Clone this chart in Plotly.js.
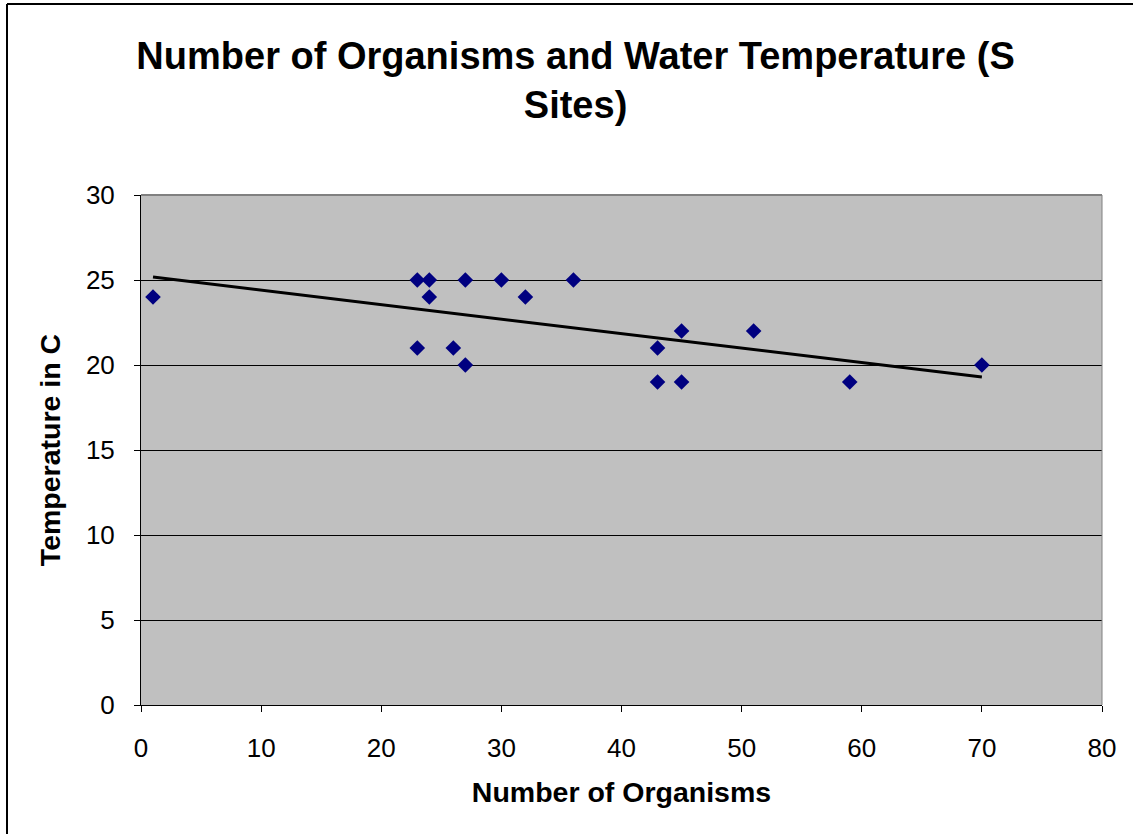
<!DOCTYPE html>
<html>
<head>
<meta charset="utf-8">
<script src="https://cdn.plot.ly/plotly-3.0.1.min.js"></script>
<style>html,body{margin:0;padding:0;background:#fff;}#chart{width:1133px;height:834px;}</style>
</head>
<body>
<div id="chart"></div>
<script>
const organisms = [1, 23, 24, 24, 27, 30, 36, 32, 23, 26, 27, 43, 45, 51, 43, 45, 59, 70];
const temperature = [24, 25, 25, 24, 25, 25, 25, 24, 21, 21, 20, 21, 22, 22, 19, 19, 19, 20];
const xTicks = [0, 10, 20, 30, 40, 50, 60, 70, 80];
const yTicks = [0, 5, 10, 15, 20, 25, 30];

// least-squares trendline
const n = organisms.length;
const mx = organisms.reduce((a, b) => a + b, 0) / n;
const my = temperature.reduce((a, b) => a + b, 0) / n;
let sxy = 0, sxx = 0;
for (let i = 0; i < n; i++) { sxy += (organisms[i] - mx) * (temperature[i] - my); sxx += (organisms[i] - mx) ** 2; }
const slope = sxy / sxx, icpt = my - slope * mx;
const xMin = Math.min(...organisms), xMax = Math.max(...organisms);
const trendX = [xMin, xMax];
const trendY = trendX.map(v => icpt + slope * v);

const font = 'Arial, "Liberation Sans", sans-serif';
const L = 141, R = 31, T = 195, B = 129;
const pw = 1133 - L - R, ph = 834 - T - B;

const data = [
  { x: trendX, y: trendY, type: 'scatter', mode: 'lines', line: { color: '#000', width: 3 }, hoverinfo: 'skip' },
  { x: organisms, y: temperature, type: 'scatter', mode: 'markers',
    marker: { symbol: 'diamond', color: '#000080', size: 12, line: { width: 0 } } }
];

const layout = {
  width: 1133, height: 834,
  margin: { l: L, r: R, t: T, b: B, pad: 0 },
  paper_bgcolor: '#fff', plot_bgcolor: '#c0c0c0',
  showlegend: false,
  title: { text: '<b>Number of Organisms and Water Temperature (S<br>Sites)</b>',
    font: { family: font, size: 38, color: '#000' }, xref: 'container', x: 0.508, xanchor: 'center',
    yref: 'container', y: 1 - 69 / 834, yanchor: 'top' },
  xaxis: { range: [0, 80], tickvals: xTicks, ticktext: xTicks.map(String), showgrid: false, zeroline: false,
    showline: true, linecolor: '#000', linewidth: 1, ticks: 'outside', ticklen: 6, tickcolor: '#000',
    ticklabelstandoff: 14,
    tickfont: { family: font, size: 26, color: '#000' }, mirror: false,
    title: { text: '<b>Number of Organisms</b>', font: { family: font, size: 28.5, color: '#000' }, standoff: 19 } },
  yaxis: { range: [0, 30], tickvals: yTicks, ticktext: yTicks.map(String), showgrid: true, gridcolor: '#000', gridwidth: 1,
    zeroline: false, showline: true, linecolor: '#000', linewidth: 1, ticks: 'outside', ticklen: 6, tickcolor: '#000',
    ticklabelstandoff: 14,
    tickfont: { family: font, size: 26, color: '#000' },
    title: { text: '<b>Temperature in C</b>', font: { family: font, size: 28.5, color: '#000' }, standoff: 16 } },
  shapes: [
    { type: 'line', xref: 'paper', yref: 'paper', x0: 0, x1: 1, y0: 1, y1: 1, line: { color: '#808080', width: 2 } },
    { type: 'line', xref: 'paper', yref: 'paper', x0: 1, x1: 1, y0: 0, y1: 1, line: { color: '#808080', width: 1 } },
    { type: 'line', xref: 'paper', yref: 'paper', x0: (7 - L) / pw, x1: (7 - L) / pw, y0: (ph + T - 4) / ph, y1: -B / ph, line: { color: '#000', width: 2 } },
    { type: 'line', xref: 'paper', yref: 'paper', x0: (7 - L) / pw, x1: (1133 - L) / pw, y0: (ph + T - 4) / ph, y1: (ph + T - 4) / ph, line: { color: '#000', width: 2 } }
  ]
};

Plotly.newPlot('chart', data, layout, { displayModeBar: false, staticPlot: true });
</script>
</body>
</html>
